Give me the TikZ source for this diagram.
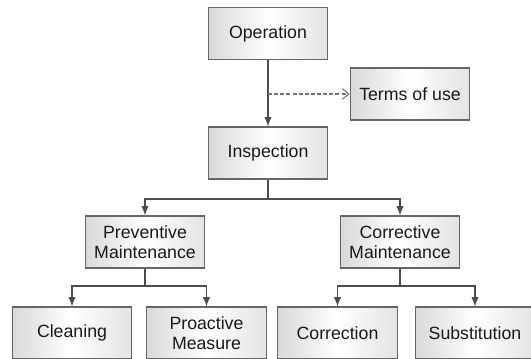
\documentclass[tikz,border=0pt]{standalone}
\usepackage{fontspec}
\setmainfont{Liberation Sans}
\usetikzlibrary{arrows.meta}

\tikzset{
    box/.style={shape=rectangle, draw=black!60, line width=0.9pt,
        left color=black!15, right color=black!11, middle color=white,
        minimum width=89.5pt, minimum height=39pt, align=center,
        font=\fontsize{13.3pt}{15.5pt}\selectfont, text=black!90, inner sep=1pt},
    arr/.style={draw=black!70, line width=0.8pt, -{Latex[length=7pt,width=5.5pt]}},
    dasharr/.style={draw=black!55, line width=0.8pt, dash pattern=on 3pt off 1.6pt,
        -{Straight Barb[length=5pt,width=8pt]}}
}

\begin{document}
\begin{tikzpicture}[x=0.75pt, y=-0.75pt]
    \useasboundingbox (0,0) rectangle (531,358);

    \node[box] (op) at (268,33.5) {Operation};
    \node[box] (terms) at (410,94) {Terms of use};
    \node[box] (insp) at (268,153) {Inspection};
    \node[box] (prev) at (145,242) {Preventive\\Maintenance};
    \node[box] (corr) at (400,242) {Corrective\\Maintenance};
    \node[box] (clean) at (72,333) {Cleaning};
    \node[box] (proact) at (206.5,333) {Proactive\\Measure};
    \node[box] (correction) at (337.5,333) {Correction};
    \node[box] (subst) at (475,333) {Substitution};

    \coordinate (tap) at (268,94);
    \coordinate (j1) at (268,199);
    \coordinate (j2) at (145,286);
    \coordinate (j3) at (400,286);

    \path [arr] (op) -- (insp);
    \path [dasharr] (tap) -- (terms);
    \path [arr] (insp) -- (j1) -| (prev);
    \path [arr] (j1) -| (corr);
    \path [arr] (prev) -- (j2) -| (clean);
    \path [arr] (j2) -| (proact);
    \path [arr] (corr) -- (j3) -| (correction);
    \path [arr] (j3) -| (subst);
\end{tikzpicture}
\end{document}
